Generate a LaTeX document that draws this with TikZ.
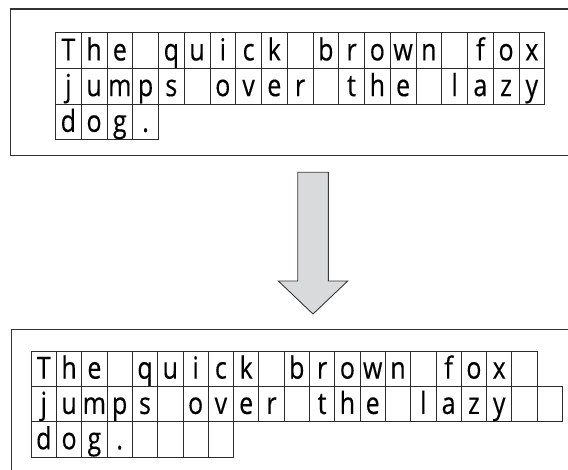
\documentclass[tikz,border=0pt]{standalone}
\usepackage{fontspec}
\setmainfont{Open Sans}[FakeStretch=0.82,FakeBold=0.3]
\definecolor{cellline}{HTML}{2B2B2B}
\definecolor{frameline}{HTML}{333333}
\definecolor{arrowfill}{HTML}{D9DADC}
\definecolor{arrowline}{HTML}{3A3A3A}

% one row of character cells: name prefix, left x, top y, cell width, cell height, characters
\newcommand\cellrow[6]{%
  \foreach \ch [count=\i] in {#6} {%
    \node[cell, minimum width=#4pt, minimum height=#5pt] (#1-\i) at ({#2+(\i-1)*#4},#3) {\ch};
  }%
}

\begin{document}
\begin{tikzpicture}[x=1pt,y=-1pt,
  cell/.style={draw=cellline, line width=0.9pt, inner sep=0pt, anchor=north west,
    text height=19.7pt, text depth=0pt, font=\fontsize{30.5}{30.5}\selectfont, text=black},
  frame/.style={draw=frameline, line width=1.1pt},
  blockarrow/.style={draw=arrowline, fill=arrowfill, line width=0.9pt, line join=miter}]
\clip (0,0) rectangle (568,470);

% upper panel: text packed into cells
\draw[frame] (10.7,9) rectangle (600,155.7);
\cellrow{a1}{55}{32.3}{25.75}{35.7}{T,h,e,{},q,u,i,c,k,{},b,r,o,w,n,{},f,o,x}
\cellrow{a2}{55}{68}{25.75}{35.7}{j,u,m,p,s,{},o,v,e,r,{},t,h,e,{},l,a,z,y}
\cellrow{a3}{55}{103.7}{25.75}{35.7}{d,o,g,.}

% downward block arrow
\coordinate (shaftL) at (297.7,172.3);
\coordinate (shaftR) at (328.3,172.3);
\coordinate (tip) at (313,314);
\draw[blockarrow] (shaftL) -- (shaftR) -- (328.3,281) -- (347.7,281) -- (tip)
  -- (278.3,281) -- (297.7,281) -- cycle;

% lower panel: same text with padding cells
\draw[frame] (11.7,329.3) rectangle (600,600);
\cellrow{b1}{30.7}{350.7}{25.3}{35.3}{T,h,e,{},q,u,i,c,k,{},b,r,o,w,n,{},f,o,x,{}}
\cellrow{b2}{30.7}{386}{25.3}{35.3}{j,u,m,p,s,{},o,v,e,r,{},t,h,e,{},l,a,z,y,{},{}}
\cellrow{b3}{30.7}{421.3}{25.3}{35.3}{d,o,g,.,{},{},{},{}}
\end{tikzpicture}
\end{document}
